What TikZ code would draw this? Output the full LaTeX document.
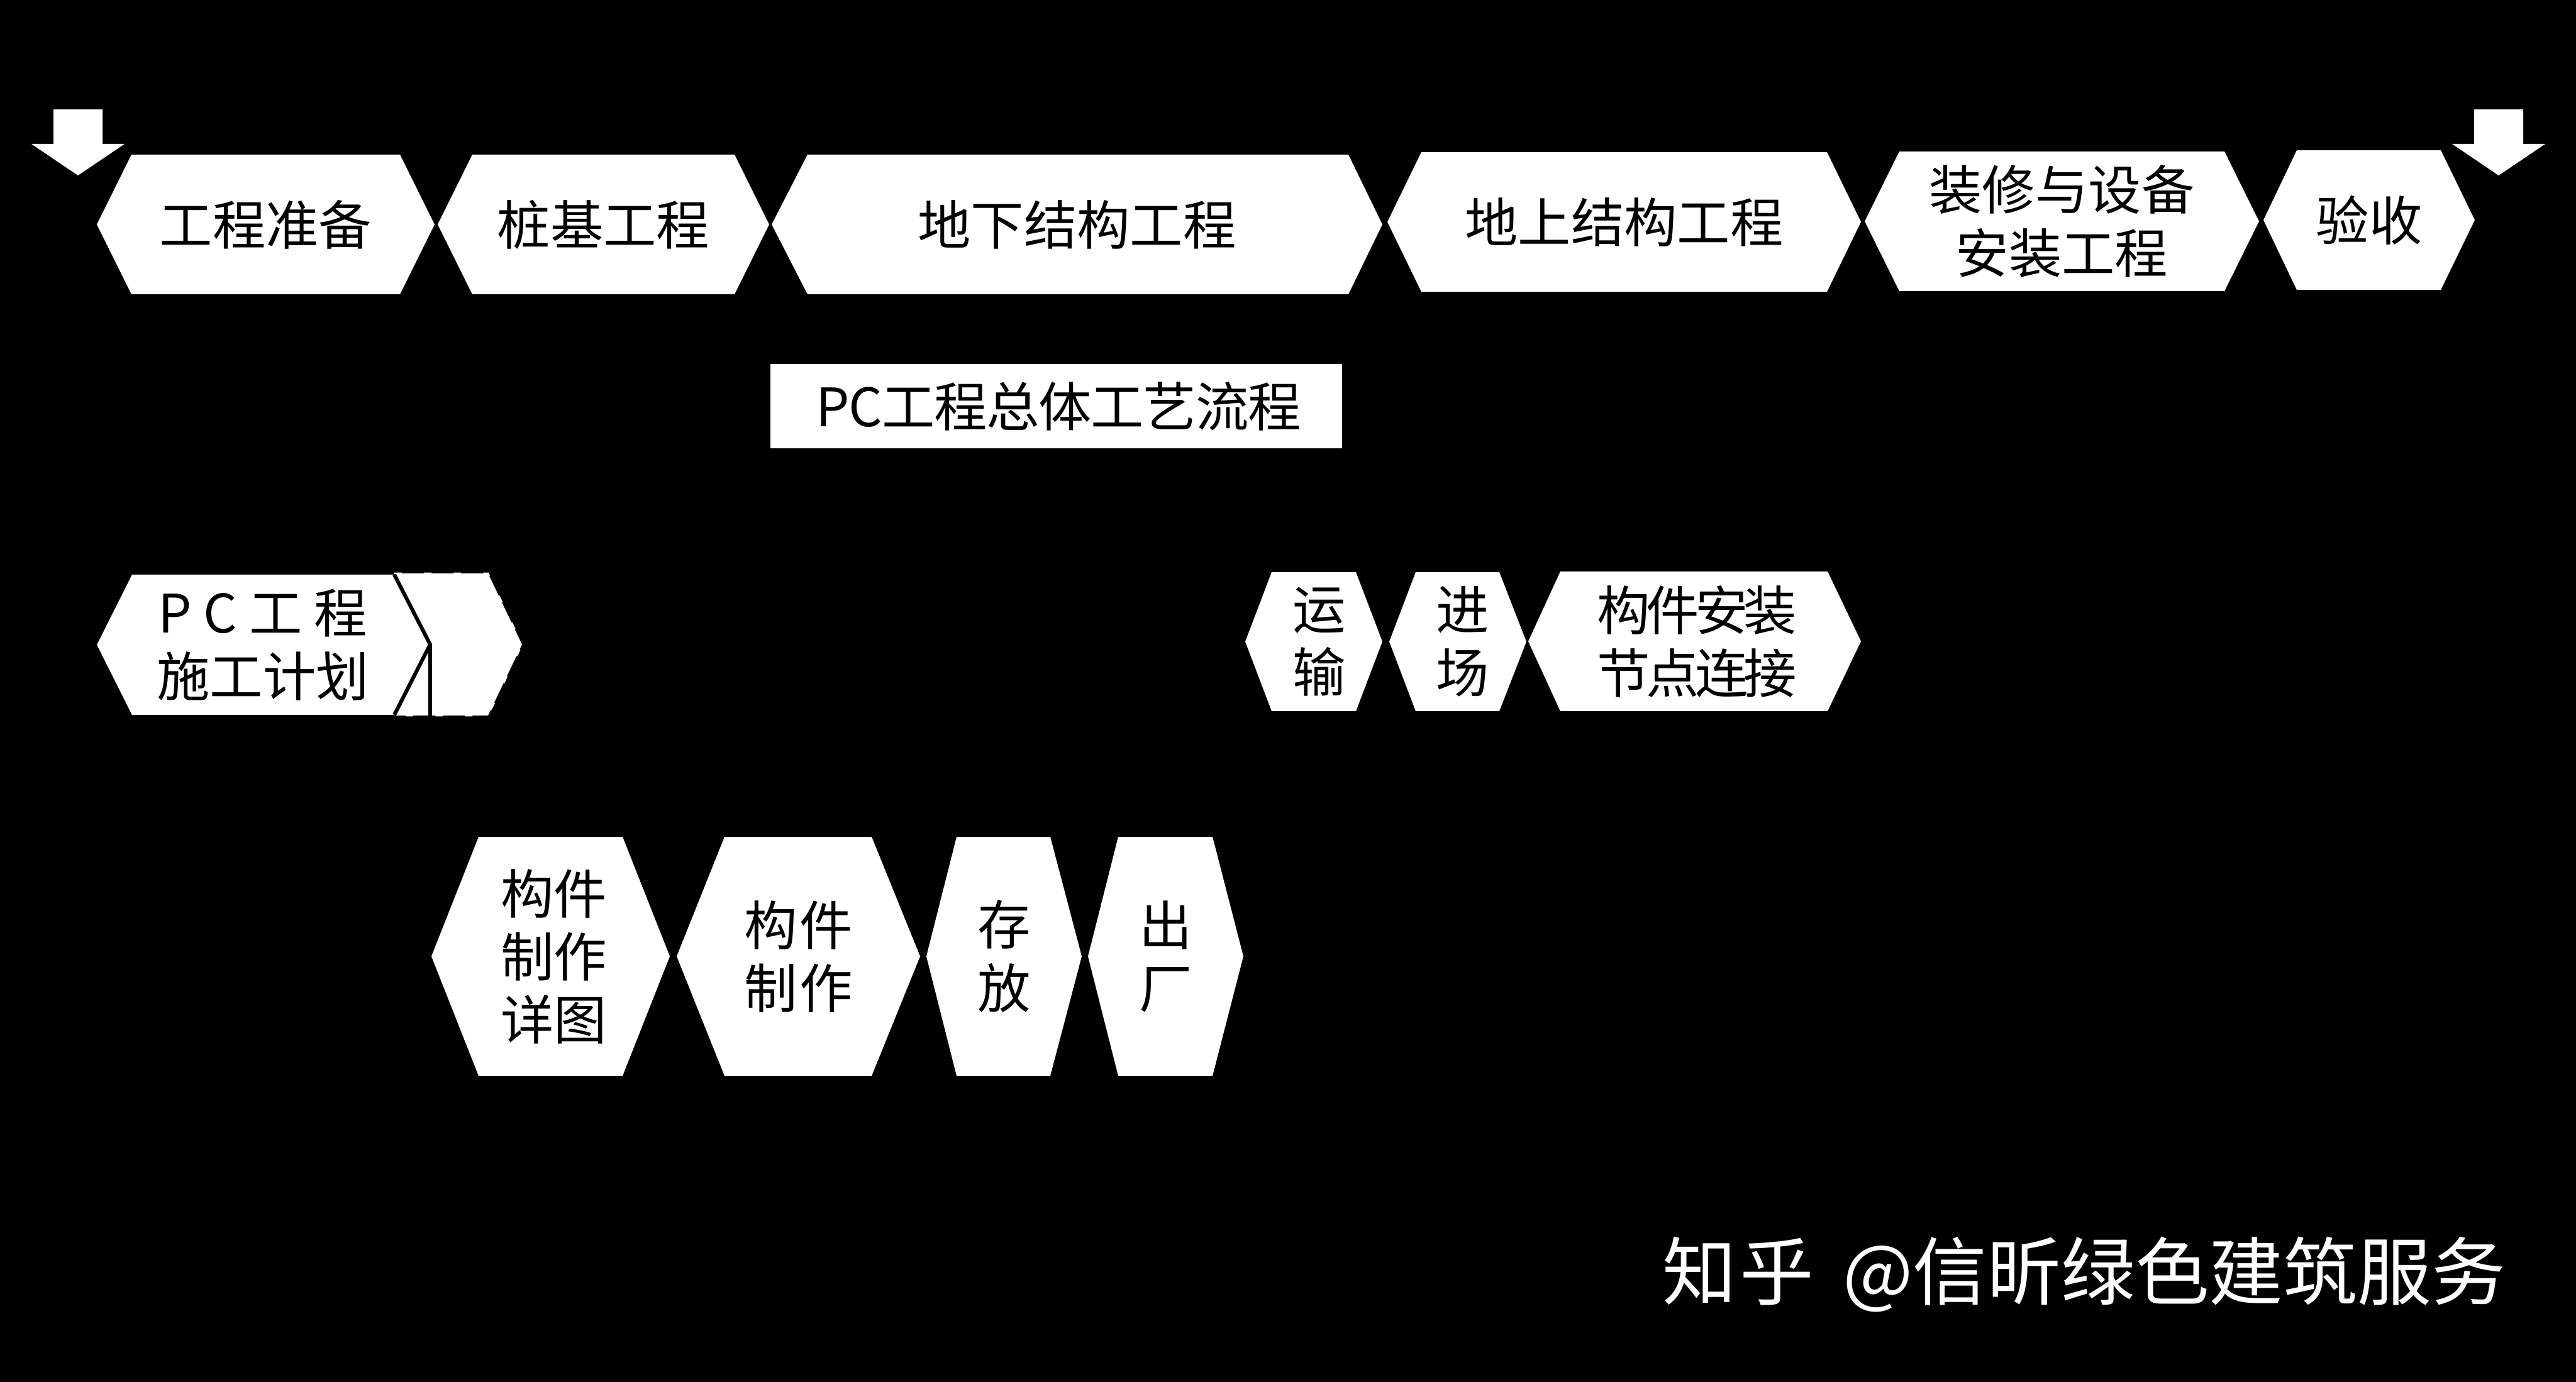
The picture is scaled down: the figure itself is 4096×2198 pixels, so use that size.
\documentclass[tikz,border=0pt]{standalone}
\usepackage{fontspec}
\setmainfont{Noto Sans CJK SC}
\usepackage{tikz}
\newcommand{\hexstage}[9][]{%
	\fill [white] (#3,{(#7+#8)/2}) -- (#4,#7) -- (#5,#7) -- (#6,{(#7+#8)/2}) -- (#5,#8) -- (#4,#8) -- cycle;
	\node [stagetext, #1] (#2) at ({(#3+#6)/2},{(#7+#8)/2}) {#9};
}
\newcommand{\downmark}[1]{%
	\fill [white] (#1-39,174) -- (#1+39,174) -- (#1+39,229) -- (#1+74,229) -- (#1,279) -- (#1-74,229) -- (#1-39,229) -- cycle;
}
\newcommand{\spaced}[2]{{\addfontfeature{LetterSpace=#1}#2}}
\tikzset{
	stagetext/.style={black, align=center, inner sep=0pt, font=\fontsize{24}{28.45}\selectfont},
	marktext/.style={white, inner sep=0pt, font=\fontsize{33.5}{40}\selectfont},
}

\begin{document}
\begin{tikzpicture}[x=0.01cm, y=-0.01cm]
	
	\useasboundingbox (0,0) rectangle (4096,2198);
	\fill [black] (0,0) rectangle (4096,2198);
	
	% top row
	\downmark{124}
	\downmark{3973}
	\hexstage{prepare}{154}{209}{636}{691}{246}{468}{工程准备}
	\hexstage{pile}{696}{751}{1168}{1223}{246}{468}{桩基工程}
	\hexstage{under}{1227}{1284}{2144}{2198}{246}{468}{地下结构工程}
	\hexstage{above}{2206}{2260}{2905}{2959}{242}{464}{地上结构工程}
	\hexstage{finish}{2965}{3020}{3537}{3592}{241}{463}{装修与设备\\安装工程}
	\hexstage{accept}{3599}{3652}{3881}{3935}{239}{461}{验收}
	
	\fill [white] (1225,579) rectangle (2134,713);
	\node [stagetext] (flowtitle) at (1683,646) {\spaced{-1.5}{PC工程总体工艺流程}};
	
	% middle row
	\fill [white] (627,912) -- (776,912) -- (830,1025) -- (776,1138) -- (627,1138) -- (684,1025) -- cycle;
	\draw [white, line width=0.8pt, dash pattern=on 3.4pt off 10pt] (627,912) -- (776,912) -- (830,1025) -- (776,1138) -- (627,1138);
	\hexstage{plan}{154}{210}{626}{682}{914}{1137}{P C 工 程\\施工计划}
	\draw [black, line width=1.7pt] (627,914) -- (684,1025) -- (627,1137);
	\draw [black, line width=1.7pt] (684,1025) -- (684,1138);
	
	\hexstage[xshift=0.09cm]{ship}{1980}{2022}{2156}{2198}{910}{1131}{运\\输}
	\hexstage[xshift=0.08cm]{enter}{2209}{2251}{2384}{2427}{910}{1131}{进\\场}
	\hexstage[xshift=0.04cm]{erect}{2430}{2481}{2906}{2959}{909}{1131}{\spaced{-8}{构件安装}\\\spaced{-8}{节点连接}}
	
	% bottom row
	\hexstage[xshift=0.05cm]{detail}{686}{761}{990}{1065}{1331}{1711}{构件\\制作\\详图}
	\hexstage{make}{1076}{1152}{1386}{1463}{1331}{1711}{\spaced{5}{构件}\\\spaced{5}{制作}}
	\hexstage{store}{1473}{1521}{1670}{1720}{1331}{1711}{存\\放}
	\hexstage{leave}{1730}{1778}{1928}{1977}{1331}{1711}{出\\厂}
	
	\node [marktext, anchor=east] (source) at (3985,2027) {\spaced{4}{知乎} \hspace{0.2cm}@信昕绿色建筑服务};

\end{tikzpicture}
\end{document}
